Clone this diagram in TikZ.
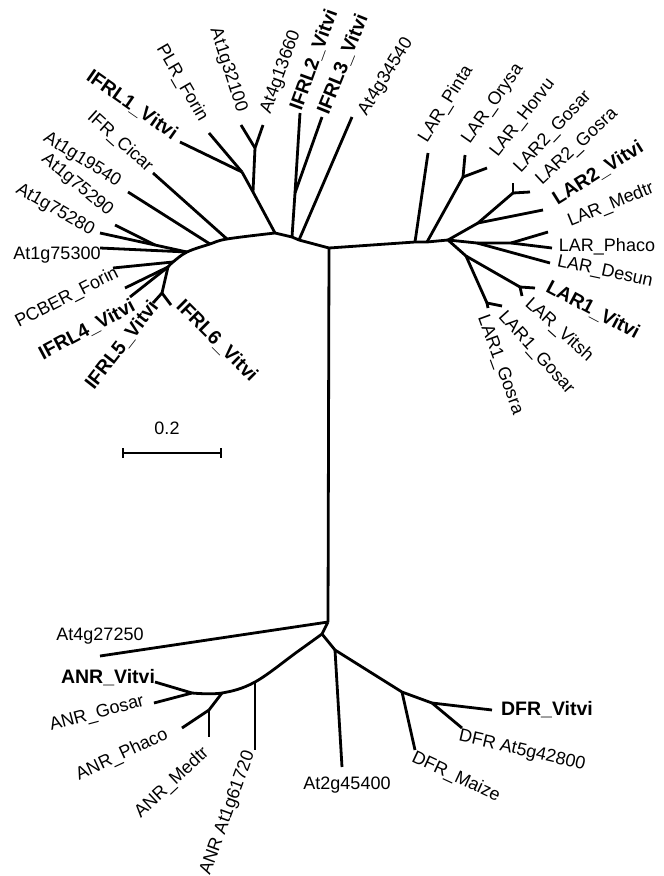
\documentclass[tikz,border=0pt]{standalone}
\usepackage{fontspec}
\setmainfont{Liberation Sans}
\usetikzlibrary{arrows.meta}

\begin{document}
\begin{tikzpicture}[x=1pt,y=-1pt,
    br/.style={line width=2.8pt,line join=round},
    lab/.style={font=\fontsize{18}{20}\selectfont,inner sep=0pt},
    blab/.style={inner sep=0pt,font=\fontsize{19.5}{22}\selectfont\bfseries}]
    \useasboundingbox (0,0) rectangle (664,876);

    % trunk
    \coordinate (top) at (329,248);
    \coordinate (bot) at (328,622);
    % IFR / PLR side
    \coordinate (p2) at (299,240);
    \coordinate (p1) at (292,237);
    \coordinate (q)  at (275,233);
    \coordinate (c1) at (227,239);
    \coordinate (c2) at (210,244);
    \coordinate (c3) at (187,252);
    \coordinate (c4) at (173,262);
    \coordinate (c5) at (168,267);
    \coordinate (x1) at (253,192);
    \coordinate (y1) at (242,172);
    \coordinate (z1) at (255,148);
    \coordinate (n23) at (295,193);
    \coordinate (w1) at (155,245);
    \coordinate (f1) at (162,293);
    % LAR side
    \coordinate (r1) at (415,242);
    \coordinate (r2) at (427,242);
    \coordinate (r0) at (448,240);
    \coordinate (h1) at (477,243);
    \coordinate (h2) at (511,243);
    \coordinate (oh) at (463,177);
    \coordinate (m1) at (478,223);
    \coordinate (l2) at (513,193);
    \coordinate (l1) at (466,256);
    \coordinate (v1) at (520,287);
    \coordinate (g1) at (487,303);
    % ANR / DFR side
    \coordinate (b2) at (322,634);
    \coordinate (a1) at (297,652);
    \coordinate (a2) at (255,682);
    \coordinate (a3) at (222,693);
    \coordinate (a4) at (192,693);
    \coordinate (a5) at (209,710);
    \coordinate (d0) at (335,650);
    \coordinate (d1) at (402,692);
    \coordinate (d2) at (432,703);

    % tips
    \coordinate (tIFRLa) at (180,142);
    \coordinate (tPLR) at (209,133);
    \coordinate (tAtc) at (241,125);
    \coordinate (tAtd) at (263,125);
    \coordinate (tIFRLb) at (300,113);
    \coordinate (tIFRLc) at (322,117);
    \coordinate (tAte) at (352,117);
    \coordinate (tCicar) at (153,173);
    \coordinate (tAtf) at (128,192);
    \coordinate (tAtg) at (115,225);
    \coordinate (tAth) at (100,233);
    \coordinate (tAti) at (100,248);
    \coordinate (tPCBER) at (113,268);
    \coordinate (tExtra) at (125,288);
    \coordinate (tIFRLd) at (130,297);
    \coordinate (tIFRLe) at (153,303);
    \coordinate (tIFRLf) at (171,305);
    \coordinate (tPinta) at (428,153);
    \coordinate (tOrysa) at (465,155);
    \coordinate (tHorvu) at (487,168);
    \coordinate (tLtGosar) at (513,183);
    \coordinate (tLtGosra) at (530,192);
    \coordinate (tLtVitvi) at (543,210);
    \coordinate (tMedtr) at (548,232);
    \coordinate (tPhaco) at (552,248);
    \coordinate (tDesun) at (550,263);
    \coordinate (tLoVitvi) at (535,288);
    \coordinate (tVitsh) at (522,296);
    \coordinate (tLoGosar) at (502,306);
    \coordinate (tLoGosra) at (488,308);
    \coordinate (tAtj) at (100,656);
    \coordinate (tANRVitvi) at (155,682);
    \coordinate (tANRGosar) at (154,703);
    \coordinate (tANRPhaco) at (182,728);
    \coordinate (tANRMedtr) at (209,737);
    \coordinate (tANRAt) at (255,750);
    \coordinate (tAtk) at (342,767);
    \coordinate (tMaize) at (415,750);
    \coordinate (tDFRVitvi) at (492,710);
    \coordinate (tDFRAt) at (462,728);

    % backbones
    \draw[br] (bot) -- (top) -- (p2) -- (p1) -- (q);
    \draw[br] plot[smooth, tension=0.6] coordinates {(q) (c1) (c2) (c3) (c4) (c5)};
    \draw[br] (top) -- (r1) -- (r2) -- (r0) -- (h1) -- (h2);
    \draw[br] (bot) -- (b2);
    \draw[br] plot[smooth, tension=0.6] coordinates {(b2) (a1) (a2) (a3) (a4)};
    \draw[br] (b2) -- (d0) -- (d1) -- (d2);
    \draw[br] (q) -- (x1) -- (y1);
    \draw[br] (p1) -- (n23) -- (tIFRLb);
    \draw[br] (r0) -- (m1) -- (l2);
    \draw[br] (r0) -- (l1) -- (v1);

    % branches
    \foreach \a/\b in {y1/tIFRLa, y1/tPLR, x1/z1, z1/tAtc, z1/tAtd, n23/tIFRLc,
        p2/tAte, c1/tCicar, c2/tAtf, c3/w1, w1/tAtg, w1/tAth, c3/tAti,
        c4/tPCBER, c5/tExtra, c5/tIFRLd, c5/f1, f1/tIFRLe, f1/tIFRLf,
        r1/tPinta, r2/oh, oh/tOrysa, oh/tHorvu, l2/tLtGosar, l2/tLtGosra,
        m1/tLtVitvi, h2/tMedtr, h2/tPhaco, h1/tDesun, v1/tLoVitvi, v1/tVitsh,
        l1/g1, g1/tLoGosar, g1/tLoGosra,
        bot/tAtj, a4/tANRVitvi, a4/tANRGosar, a3/a5, a5/tANRPhaco, a5/tANRMedtr,
        a2/tANRAt, d0/tAtk, d1/tMaize, d2/tDFRVitvi, d2/tDFRAt}
        \draw[br] (\a) -- (\b);

    % labels
    \node[blab, rotate=-35] (lIFRLa) at (132,105) {IFRL1\_Vitvi};
    \node[lab, rotate=-60] (lPLR) at (182,83) {PLR\_Forin};
    \node[lab, rotate=-72] (lAtc) at (228,70) {At1g32100};
    \node[lab, rotate=70] (lAtd) at (281,72) {At4g13660};
    \node[blab, rotate=70] (lIFRLb) at (314,60) {IFRL2\_Vitvi};
    \node[blab, rotate=68] (lIFRLc) at (343,64) {IFRL3\_Vitvi};
    \node[lab, rotate=58] (lAte) at (386,77) {At4g34540};
    \node[lab, rotate=-42] (lCicar) at (120,142) {IFR\_Cicar};
    \node[lab, rotate=-32] (lAtf) at (82,160) {At1g19540};
    \node[lab, rotate=-40] (lAtg) at (77,185) {At1g75290};
    \node[lab, rotate=-30] (lAth) at (55,210) {At1g75280};
    \node[lab] (lAti) at (57,255) {At1g75300};
    \node[lab, rotate=27] (lPCBER) at (67,298) {PCBER\_Forin};
    \node[blab, rotate=28] (lIFRLd) at (87,330) {IFRL4\_Vitvi};
    \node[blab, rotate=52] (lIFRLe) at (122,345) {IFRL5\_Vitvi};
    \node[blab, rotate=-45] (lIFRLf) at (217,341) {IFRL6\_Vitvi};

    \node[lab, rotate=58] (lPinta) at (446,104) {LAR\_Pinta};
    \node[lab, rotate=55] (lOrysa) at (493,104) {LAR\_Orysa};
    \node[lab, rotate=52] (lHorvu) at (523,118) {LAR\_Horvu};
    \node[lab, rotate=47] (lLtGosar) at (553,132) {LAR2\_Gosar};
    \node[lab, rotate=43] (lLtGosra) at (577,147) {LAR2\_Gosra};
    \node[blab, rotate=32] (lLtVitvi) at (598,173) {LAR2\_Vitvi};
    \node[lab, rotate=22] (lMedtr) at (611,205) {LAR\_Medtr};
    \node[lab] (lPhaco) at (607,247) {LAR\_Phaco};
    \node[lab, rotate=-12] (lDesun) at (605,272) {LAR\_Desun};
    \node[blab, rotate=-28] (lLoVitvi) at (593,310) {LAR1\_Vitvi};
    \node[lab, rotate=-42] (lVitsh) at (559,330) {LAR\_Vitsh};
    \node[lab, rotate=-48] (lLoGosar) at (536,353) {LAR1\_Gosar};
    \node[lab, rotate=-70] (lLoGosra) at (500,365) {LAR1\_Gosra};

    \node[lab] (lAtj) at (100,636) {At4g27250};
    \node[blab] (lANRVitvi) at (108,678) {ANR\_Vitvi};
    \node[lab, rotate=15] (lANRGosar) at (97,714) {ANR\_Gosar};
    \node[lab, rotate=25] (lANRPhaco) at (122,755) {ANR\_Phaco};
    \node[lab, rotate=43] (lANRMedtr) at (172,783) {ANR\_Medtr};
    \node[lab, rotate=70] (lANRAt) at (228,813) {ANR At1g61720};
    \node[lab] (lAtk) at (347,785) {At2g45400};
    \node[lab, rotate=-25] (lMaize) at (456,777) {DFR\_Maize};
    \node[lab, rotate=-13] (lDFRAt) at (522,751) {DFR At5g42800};
    \node[blab] (lDFRVitvi) at (547,710) {DFR\_Vitvi};

    % scale bar
    \coordinate (s1) at (122,453);
    \coordinate (s2) at (222,453);
    \draw[line width=2.4pt, {Bar[width=10pt]}-{Bar[width=10pt]}] (s1) -- (s2);
    \node[lab] (lScale) at (167,428) {0.2};
\end{tikzpicture}
\end{document}
